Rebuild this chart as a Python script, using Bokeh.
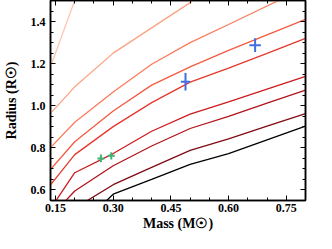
from bokeh.plotting import figure
from bokeh.models import LinearAxis, FixedTicker, CustomJSTickFormatter, Range1d
from bokeh.embed import file_html
from bokeh.resources import INLINE
import numpy as np

# ---- data ----
mass_grid = [0.1, 0.2, 0.3, 0.4, 0.5, 0.6, 0.7, 0.8]
r_c1 = [1.00, 1.50, 1.80, 2.00, 2.15, 2.30, 2.45, 2.60]
r_c2 = [0.89, 1.09, 1.25, 1.37, 1.49, 1.61, 1.72, 1.83]
r_c3 = [0.73, 0.922, 1.065, 1.197, 1.30, 1.386, 1.474, 1.56]
r_c4 = [0.62, 0.829, 0.975, 1.098, 1.185, 1.263, 1.337, 1.41]
r_c5 = [0.54, 0.768, 0.901, 1.015, 1.112, 1.179, 1.249, 1.32]
r_c6 = [0.41, 0.682, 0.773, 0.879, 0.96, 1.018, 1.079, 1.14]
r_c7 = [0.40, 0.595, 0.715, 0.809, 0.892, 0.95, 1.012, 1.074]
r_c8 = [0.35, 0.513, 0.625, 0.707, 0.788, 0.843, 0.903, 0.963]
r_c9 = [0.30, 0.404, 0.58, 0.65, 0.722, 0.773, 0.838, 0.903]
curves = [r_c1, r_c2, r_c3, r_c4, r_c5, r_c6, r_c7, r_c8, r_c9]
curve_colors = ["#fcc6b2", "#fca283", "#fb7b5b", "#f45a40", "#e6372b",
                "#cc1c20", "#b01319", "#800a12", "#000000"]

blue_m = [0.488, 0.669]
blue_r = [1.114, 1.288]
blue_m_err = [0.012, 0.015]
blue_r_err = [0.042, 0.033]

green_m = [0.268, 0.295]
green_r = [0.750, 0.762]
green_m_err = [0.009, 0.009]
green_r_err = [0.018, 0.017]

x_major = [0.15, 0.30, 0.45, 0.60, 0.75]
x_minor = [round(0.10 + 0.05 * i, 2) for i in range(15)]
y_major = [0.6, 0.8, 1.0, 1.2, 1.4]
y_minor = [round(0.50 + 0.05 * i, 2) for i in range(22)]
x_labels = {0.15: "0.15", 0.30: "0.30", 0.45: "0.45", 0.60: "0.60", 0.75: "0.75"}
y_labels = {0.6: "0.6", 0.8: "0.8", 1.0: "1.0", 1.2: "1.2", 1.4: "1.4"}

FONT = "Liberation Serif"

p = figure(width=316, height=233, output_backend="svg", toolbar_location=None,
           x_range=Range1d(0.137, 0.80), y_range=Range1d(0.55, 1.5),
           min_border_left=50, min_border_right=11, min_border_top=0,
           min_border_bottom=33)
p.background_fill_color = "white"
p.border_fill_color = "white"
p.outline_line_color = "black"
p.outline_line_width = 1.5
p.xgrid.visible = False
p.ygrid.visible = False

for r, c in zip(curves, curve_colors):
    p.line(mass_grid, r, line_color=c, line_width=1.3)

def errs(m, r, me, re_, color):
    m = np.array(m); r = np.array(r); me = np.array(me); re_ = np.array(re_)
    p.segment(x0=m - me, y0=r, x1=m + me, y1=r, line_color=color, line_width=2)
    p.segment(x0=m, y0=r - re_, x1=m, y1=r + re_, line_color=color, line_width=2)

errs(blue_m, blue_r, blue_m_err, blue_r_err, "#3f6fe0")
errs(green_m, green_r, green_m_err, green_r_err, "#3db374")

def style(ax, ticks, minor):
    ax.ticker = FixedTicker(ticks=ticks, minor_ticks=minor)
    ax.major_tick_in = 5
    ax.major_tick_out = 0
    ax.minor_tick_in = 3
    ax.minor_tick_out = 0
    ax.axis_line_color = "black"
    ax.axis_line_width = 1.5
    ax.major_tick_line_color = "black"
    ax.minor_tick_line_color = "black"
    ax.major_label_text_font = FONT
    ax.major_label_text_font_style = "bold"
    ax.major_label_text_font_size = "12px"
    ax.major_label_text_color = "black"
    ax.axis_label_text_font = FONT
    ax.axis_label_text_font_style = "bold"
    ax.axis_label_text_font_size = "14px"
    ax.axis_label_text_color = "black"

xa = p.xaxis[0]
style(xa, x_major, x_minor)
xa.major_label_overrides = x_labels
xa.axis_label = "Mass (M☉)"
xa.major_label_standoff = 3
xa.axis_label_standoff = 1

ya = p.yaxis[0]
style(ya, y_major, y_minor)
ya.major_label_overrides = y_labels
ya.axis_label = "Radius (R☉)"
ya.major_label_standoff = 5
ya.axis_label_standoff = 9

empty = CustomJSTickFormatter(code="return ''")
top = LinearAxis(formatter=empty)
style(top, x_major, x_minor)
top.major_label_standoff = 0
p.add_layout(top, "above")
right = LinearAxis(formatter=empty)
style(right, y_major, y_minor)
right.major_label_standoff = 0
p.add_layout(right, "right")

open("out.html", "w").write(file_html(p, INLINE))
